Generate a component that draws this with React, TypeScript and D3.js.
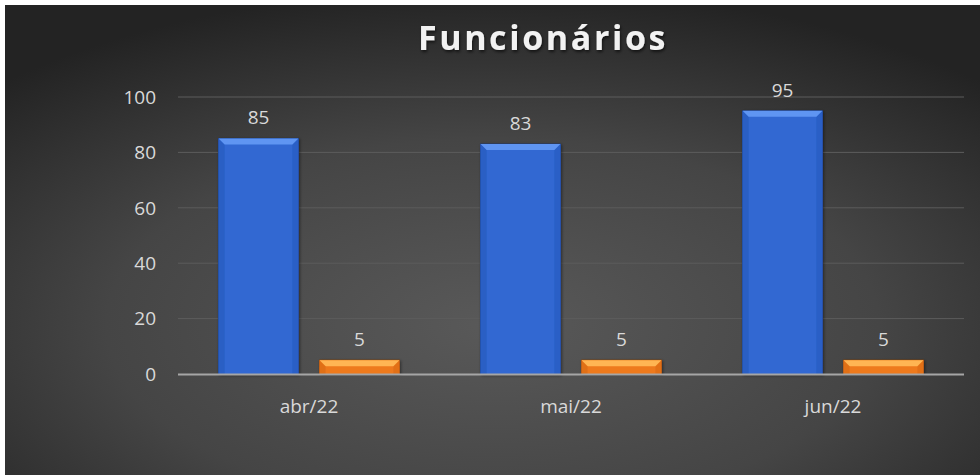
import React from "react";
import * as d3 from "d3";

const categories = ["abr/22", "mai/22", "jun/22"];
const seriesA = [85, 83, 95];
const seriesB = [5, 5, 5];
const yTicks = [0, 20, 40, 60, 80, 100];

const W = 980;
const H = 475;
const plot = { left: 178, right: 964, top: 97, bottom: 374 };

const colors = {
  a: { body: "#3068d2", top: "#5e95f2", side: "#2b5ec4", edge: "#1b3778" },
  b: { body: "#ee7a1f", top: "#ffb552", side: "#e06f18", edge: "#8a4308" },
};

const BEVEL = 6;

function Bar({ x, y, w, h, c }: { x: number; y: number; w: number; h: number; c: any }) {
  const b = Math.min(BEVEL, h / 2);
  return (
    <g>
      <rect x={x - 0.5} y={y - 0.5} width={w + 1} height={h + 1} fill={c.edge} />
      <rect x={x} y={y} width={w} height={h} fill={c.body} />
      {/* left / right bevel */}
      <polygon points={`${x},${y} ${x + b},${y + b} ${x + b},${y + h} ${x},${y + h}`} fill={c.side} />
      <polygon points={`${x + w},${y} ${x + w - b},${y + b} ${x + w - b},${y + h} ${x + w},${y + h}`} fill={c.side} opacity={0.9} />
      {/* top bevel */}
      <polygon points={`${x},${y} ${x + w},${y} ${x + w - b},${y + b} ${x + b},${y + b}`} fill={c.top} />
    </g>
  );
}

export default function App() {
  const x0 = d3.scaleBand<string>().domain(categories).range([plot.left, plot.right]).padding(0);
  const groupW = x0.bandwidth() * 0.69;
  const x1 = d3.scaleBand<string>().domain(["a", "b"]).range([0, groupW]).paddingInner(0.21);
  const y = d3.scaleLinear().domain([0, 100]).range([plot.bottom, plot.top]);

  const font = "'Open Sans', 'DejaVu Sans', sans-serif";

  return (
    <svg width={W} height={H} style={{ position: "absolute", left: 0, top: 0, background: "#fff" }}>
      <defs>
        <radialGradient id="bg" cx="50%" cy="68%" r="72%" fx="50%" fy="68%">
          <stop offset="0%" stopColor="#595959" />
          <stop offset="55%" stopColor="#454545" />
          <stop offset="100%" stopColor="#232323" />
        </radialGradient>
        <filter id="tshadow" x="-10%" y="-30%" width="120%" height="160%">
          <feDropShadow dx="1" dy="2" stdDeviation="1.5" floodColor="#000" floodOpacity="0.6" />
        </filter>
        <filter id="bshadow" x="-20%" y="-10%" width="140%" height="120%">
          <feDropShadow dx="1" dy="1" stdDeviation="1.5" floodColor="#000" floodOpacity="0.45" />
        </filter>
      </defs>
      <rect x={5} y={5} width={W - 5} height={H - 5} fill="url(#bg)" />

      <text x={543} y={50} textAnchor="middle" fontFamily={font} fontWeight="bold" fontSize={34}
        letterSpacing={2.6} fill="#f2f2f2" filter="url(#tshadow)">
        Funcionários
      </text>

      {/* gridlines and y ticks */}
      {yTicks.map((t) => (
        <g key={t}>
          {t !== 0 && <line x1={plot.left} x2={plot.right} y1={y(t)} y2={y(t)} stroke="#5c5c5c" />}
          <text x={156} y={y(t)} dy="0.36em" textAnchor="end" fontFamily={font} fontSize={19} fill="#d9d9d9">
            {t}
          </text>
        </g>
      ))}

      {categories.map((cat, i) => {
        const gx = (x0(cat) as number) + (x0.bandwidth() - groupW) / 2;
        const vals = [
          { k: "a", v: seriesA[i] },
          { k: "b", v: seriesB[i] },
        ];
        return (
          <g key={cat}>
            {vals.map((d) => {
              const bx = gx + (x1(d.k) as number);
              const bw = x1.bandwidth();
              const by = y(d.v);
              return (
                <g key={d.k}>
                  <g filter="url(#bshadow)">
                    <Bar x={bx} y={by} w={bw} h={y(0) - by} c={(colors as any)[d.k]} />
                  </g>
                  <text x={bx + bw / 2} y={by - 21} dy="0.36em" textAnchor="middle" fontFamily={font}
                    fontSize={19} fill="#d9d9d9">
                    {d.v}
                  </text>
                </g>
              );
            })}
            <text x={(x0(cat) as number) + x0.bandwidth() / 2} y={plot.bottom + 32} dy="0.36em"
              textAnchor="middle" fontFamily={font} fontSize={19} fill="#d9d9d9">
              {cat}
            </text>
          </g>
        );
      })}

      {/* baseline */}
      <line x1={plot.left} x2={plot.right} y1={y(0) + 0.5} y2={y(0) + 0.5} stroke="#a6a6a6" strokeWidth={2.2} />
    </svg>
  );
}
